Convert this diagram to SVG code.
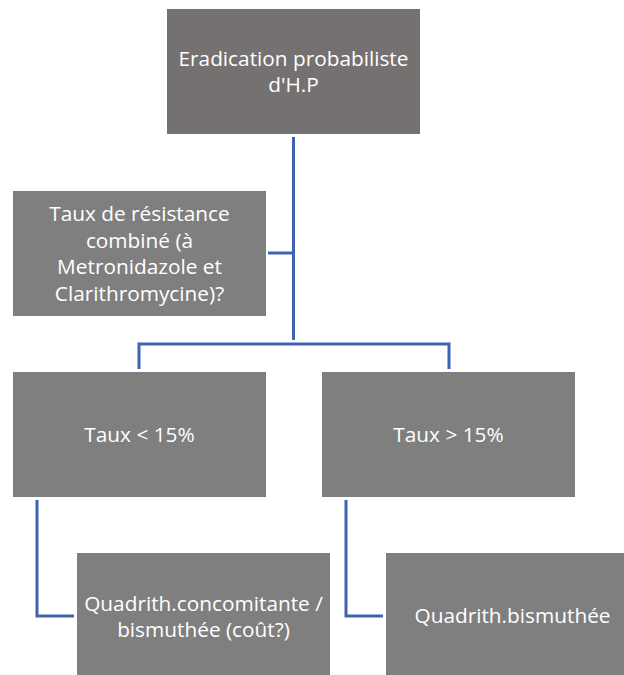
<svg xmlns="http://www.w3.org/2000/svg" width="624" height="675" viewBox="0 0 624 675">
<style>
.box{fill:#7f7f7f;}
.top{fill:#767171;}
.t{font-family:"Open Sans","Liberation Sans",sans-serif;font-size:20.8px;fill:#ffffff;text-anchor:middle;}
.c{fill:none;stroke:#3F63AD;stroke-width:3;}
</style>
<rect width="624" height="675" fill="#ffffff"/>
<g id="connectors">
<path class="c" d="M293.5,137 V340"/>
<path class="c" d="M268,253 H293.5"/>
<path class="c" d="M139,369 V344 H449 V369"/>
<path class="c" d="M37,500 V616 H74"/>
<path class="c" d="M346,500 V616 H383"/>
</g>
<g id="n1"><rect class="top" x="167" y="9" width="253" height="125"/>
<text class="t" x="293.5" y="66">Eradication probabiliste</text>
<text class="t" x="293.5" y="92">d'H.P</text></g>
<g id="n2"><rect class="box" x="13" y="191" width="253" height="125"/>
<text class="t" x="139.5" y="221">Taux de résistance</text>
<text class="t" x="139.5" y="247.5">combiné (à</text>
<text class="t" x="139.5" y="274">Metronidazole et</text>
<text class="t" x="139.5" y="300.5">Clarithromycine)?</text></g>
<g id="n3"><rect class="box" x="13" y="372" width="253" height="125"/>
<text class="t" x="139.5" y="442">Taux &lt; 15%</text></g>
<g id="n4"><rect class="box" x="322" y="372" width="253" height="125"/>
<text class="t" x="448.5" y="442">Taux &gt; 15%</text></g>
<g id="n5"><rect class="box" x="77" y="553" width="253" height="125"/>
<text class="t" x="203.5" y="611">Quadrith.concomitante /</text>
<text class="t" x="203.5" y="637">bismuthée (coût?)</text></g>
<g id="n6"><rect class="box" x="386" y="553" width="253" height="125"/>
<text class="t" x="512.5" y="623">Quadrith.bismuthée</text></g>
</svg>
